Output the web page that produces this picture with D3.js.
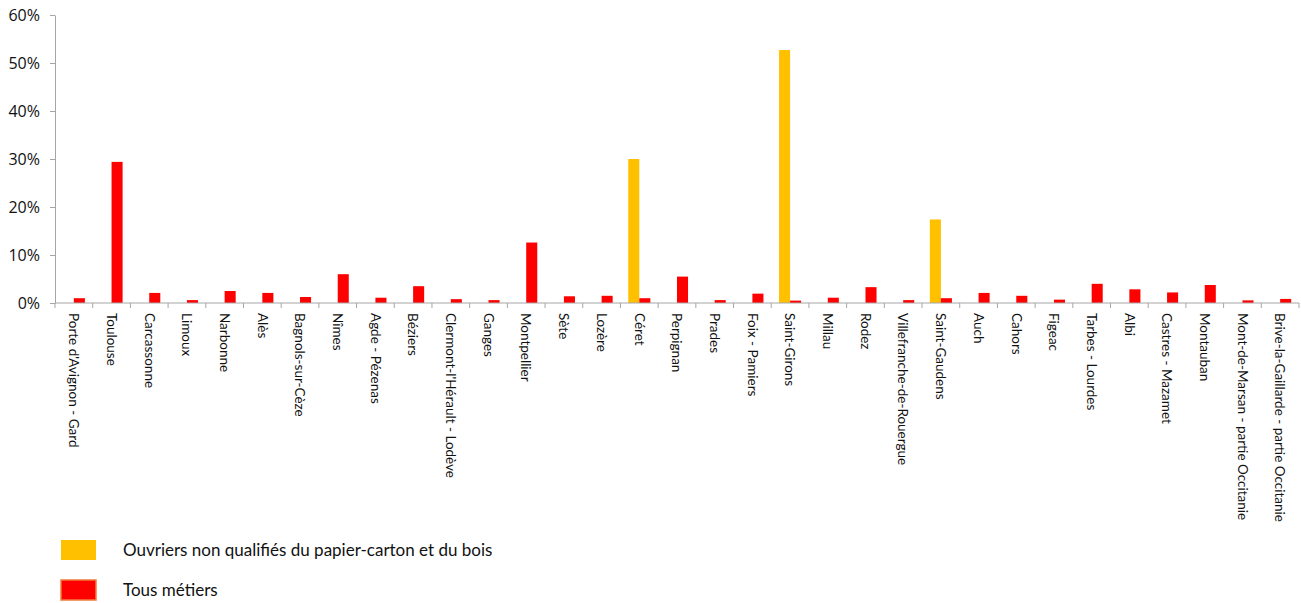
<!DOCTYPE html>
<html>
<head>
<meta charset="utf-8">
<script src="https://cdn.jsdelivr.net/npm/d3@7"></script>
<style>
  body { margin: 0; background: #fff; }
  text { fill: #111; }
</style>
</head>
<body>
<script>
// categories (zones d'emploi)
var zones = ["Porte d'Avignon - Gard", "Toulouse", "Carcassonne", "Limoux", "Narbonne", "Alès",
  "Bagnols-sur-Cèze", "Nîmes", "Agde - Pézenas", "Béziers", "Clermont-l'Hérault - Lodève", "Ganges",
  "Montpellier", "Sète", "Lozère", "Céret", "Perpignan", "Prades", "Foix - Pamiers", "Saint-Girons",
  "Millau", "Rodez", "Villefranche-de-Rouergue", "Saint-Gaudens", "Auch", "Cahors", "Figeac",
  "Tarbes - Lourdes", "Albi", "Castres - Mazamet", "Montauban", "Mont-de-Marsan - partie Occitanie",
  "Brive-la-Gaillarde - partie Occitanie"]

// share (%) per series
var ouvriers = [0, 0, 0, 0, 0, 0, 0, 0, 0, 0, 0, 0, 0, 0, 0, 30.0, 0, 0, 0, 52.7,
  0, 0, 0, 17.4, 0, 0, 0, 0, 0, 0, 0, 0, 0]
var tous = [1.0, 29.4, 2.1, 0.6, 2.5, 2.1, 1.25, 6.0, 1.1, 3.5, 0.8, 0.6, 12.6, 1.4, 1.5, 1.0,
  5.5, 0.6, 1.95, 0.5, 1.1, 3.3, 0.6, 1.0, 2.1, 1.5, 0.7, 4.0, 2.85, 2.2, 3.75, 0.55, 0.85]

var series = ["Ouvriers non qualifiés du papier-carton et du bois", "Tous métiers"]
var colors = ["#FFC000", "#FF0000"]
var yTicks = [0, 10, 20, 30, 40, 50, 60]

width = 1301
height = 603
left = 55
top_ = 15
plot_w = 1244
plot_h = 288

var svg = d3.select('body').append('svg').attr('width', width).attr('height', height)
var g = svg.append('g').attr('transform', "translate(" + left + "," + top_ + ")")

var x = d3.scaleBand().domain(zones).range([0, plot_w]).padding(0)
var bw = x.bandwidth()
var x1 = d3.scaleBand().domain(series).range([bw * 0.207, bw * 0.793]).padding(0)
var y = d3.scaleLinear().domain([0, 60]).range([plot_h, 0])

// y axis
var yAxis = g.append('g').call(d3.axisLeft(y).tickValues(yTicks).tickFormat(function(d){ return d + "%" }).tickSize(5).tickSizeOuter(0).tickPadding(10))
yAxis.selectAll('line, path').attr('stroke', '#a6a6a6')
yAxis.selectAll('text').style('font-family', 'Open Sans, sans-serif').style('font-size', '16px').attr('fill', '#111')

// bars
var rows = zones.map(function(z, i){ return {zone: z, vals: [ouvriers[i], tous[i]]} })
var grp = g.selectAll('.zone').data(rows).enter().append('g').attr('class', 'zone')
  .attr('transform', function(d){ return "translate(" + x(d.zone) + ",0)" })
grp.selectAll('rect').data(function(d){ return d.vals.map(function(v, j){ return {s: series[j], v: v, c: colors[j]} }) })
  .enter().append('rect')
  .attr('x', function(d){ return x1(d.s) })
  .attr('width', x1.bandwidth())
  .attr('y', function(d){ return y(d.v) })
  .attr('height', function(d){ return plot_h - y(d.v) })
  .attr('fill', function(d){ return d.c })

// x axis: line + boundary ticks
g.append('line').attr('x1', 0).attr('x2', plot_w).attr('y1', plot_h).attr('y2', plot_h).attr('stroke', '#a6a6a6')
g.selectAll('.xt').data(zones.concat(["end"])).enter().append('line').attr('class', 'xt')
  .attr('x1', function(d, i){ return i < zones.length ? x(d) : plot_w })
  .attr('x2', function(d, i){ return i < zones.length ? x(d) : plot_w })
  .attr('y1', plot_h).attr('y2', plot_h + 5).attr('stroke', '#a6a6a6')

g.selectAll('.xl').data(zones).enter().append('text').attr('class', 'xl')
  .attr('transform', function(d){ return "translate(" + (x(d) + bw / 2) + "," + (plot_h + 10) + ") rotate(90)" })
  .attr('dy', '0.35em')
  .style('font-family', 'Lato, sans-serif').style('font-size', '13.5px')
  .text(function(d){ return d })

// legend
var leg = svg.append('g').attr('transform', "translate(61,540)")
var li = leg.selectAll('g').data(series).enter().append('g')
  .attr('transform', function(d, i){ return "translate(0," + (i * 40) + ")" })
li.append('rect').attr('width', 35).attr('height', 20)
  .attr('fill', function(d, i){ return colors[i] })
  .attr('stroke', function(d, i){ return i == 1 ? '#F07C3C' : 'none' }).attr('stroke-width', 1.5)
li.append('text').attr('x', 62).attr('y', 10).attr('dy', '0.35em')
  .style('font-family', 'Lato, sans-serif').style('font-size', '17px')
  .text(function(d){ return d })
</script>
</body>
</html>
